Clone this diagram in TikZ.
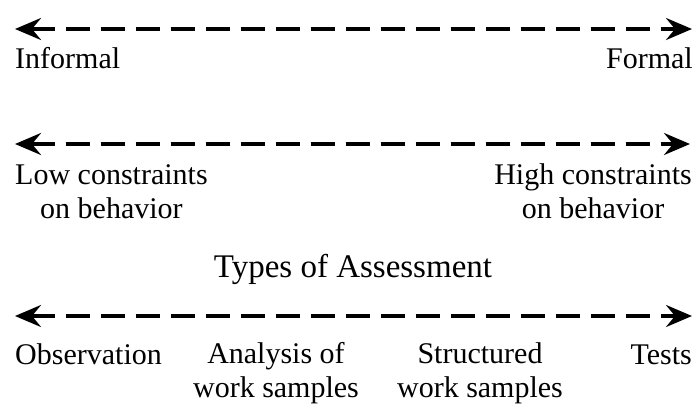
\documentclass[tikz,border=0pt]{standalone}
\usepackage{fontspec}
\setmainfont{Liberation Serif}
\usetikzlibrary{arrows.meta}
\tikzset{
  continuum/.style={line width=3.6pt, dash pattern=on 24pt off 11pt,
    arrows={Stealth[length=26pt,width=22pt,inset=9pt]-Stealth[length=26pt,width=22pt,inset=9pt]}},
  lbl/.style={inner sep=0pt, font=\fontsize{30}{34}\selectfont, align=center}
}
\begin{document}
\begin{tikzpicture}[x=1pt,y=-1pt]
\useasboundingbox (0,0) rectangle (698,407);

% Informal - formal
\coordinate (infL) at (15,29);
\coordinate (infR) at (692,29);
\draw[continuum] (infL) -- (infR);
\node[lbl, anchor=base west] (informal) at (15,68) {Informal};
\node[lbl, anchor=base east] (formal) at (693,68) {Formal};

% Constraints on behavior
\coordinate (conL) at (15,144);
\coordinate (conR) at (690,144);
\draw[continuum] (conL) -- (conR);
\node[lbl, anchor=base west] (lowcon) at (15,218) {Low constraints\\on behavior};
\node[lbl, anchor=base east] (highcon) at (692,218) {High constraints\\on behavior};

% Types of assessment
\node[lbl, font=\fontsize{33}{36}\selectfont, anchor=base] (types) at (353,277) {Types of Assessment};
\coordinate (typL) at (15,316);
\coordinate (typR) at (692,316);
\draw[continuum] (typL) -- (typR);
\node[lbl, anchor=base west] (observ) at (15,364) {Observation};
\node[lbl, anchor=base] (analysis) at (276,397) {Analysis of\\work samples};
\node[lbl, anchor=base] (structured) at (480,397) {Structured\\work samples};
\node[lbl, anchor=base east] (tests) at (692,364) {Tests};
\end{tikzpicture}
\end{document}
